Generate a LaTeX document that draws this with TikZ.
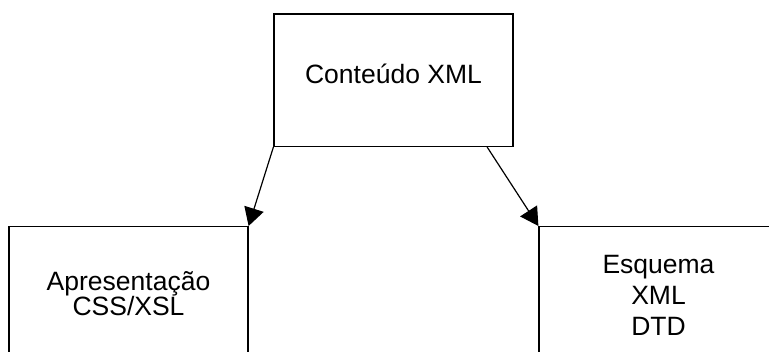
\documentclass[tikz,border=0pt]{standalone}
\usepackage{fontspec}
\setmainfont{Liberation Sans}
\usetikzlibrary{
arrows.meta,
calc,
}

\begin{document}
\begin{tikzpicture}[x=1pt,y=-1pt,
    caixa/.style={draw, line width=1.2pt, minimum width=239pt, minimum height=132.5pt, inner sep=0pt, align=center},
    seta/.style={line width=1.2pt, -{Triangle[length=18pt,width=20pt]}}]
  \useasboundingbox (0,0) rectangle (769,352);
  \node[caixa, font=\fontsize{26.5}{26}\selectfont, text height=18.6pt, text depth=12.6pt] (XML) at (393.5,80.25) {Conteúdo XML};
  % caixas de baixo cortadas pela margem
  \node[caixa, anchor=north, minimum height=135pt, font=\fontsize{26.5}{25}\selectfont] (APR) at (128.5,226) {Apresentação\\CSS/XSL};
  \node[caixa, anchor=north, minimum height=138pt, font=\fontsize{26.5}{31}\selectfont] (ESQ) at (658.5,226) {Esquema\\XML\\DTD};

  \coordinate (S) at ($(XML.south west)!0.89!(XML.south east)$);
  \draw[seta] (XML.south west) -- (APR.north east);
  \draw[seta] (S) -- (ESQ.north west);
\end{tikzpicture}
\end{document}
